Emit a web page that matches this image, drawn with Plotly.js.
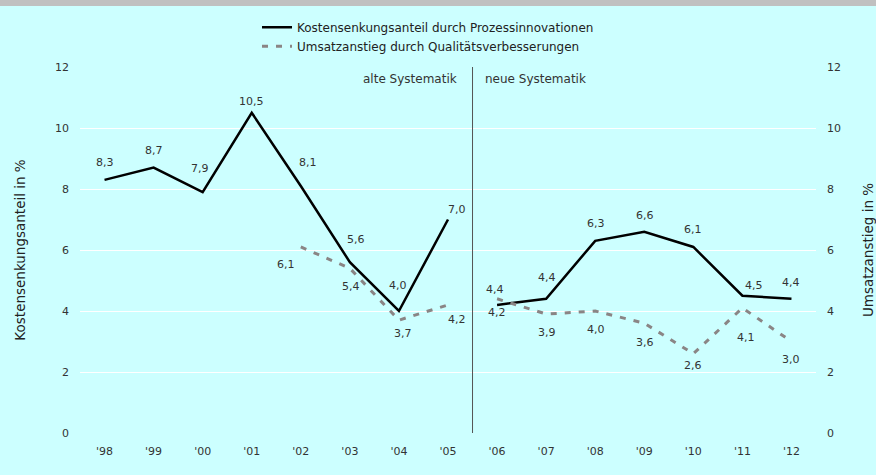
<!DOCTYPE html>
<html><head><meta charset="utf-8">
<script src="https://cdn.plot.ly/plotly-3.0.1.min.js"></script>
<style>html,body{margin:0;padding:0;background:#ccffff;}#band{height:6px;background:#c0c0c0;}#c{width:876px;height:469px;}</style>
</head><body><div id="band"></div><div id="c"></div>
<script>
const years = ["'98","'99","'00","'01","'02","'03","'04","'05","'06","'07","'08","'09","'10","'11","'12"];
const kosten = [8.3, 8.7, 7.9, 10.5, 8.1, 5.6, 4.0, 7.0, 4.2, 4.4, 6.3, 6.6, 6.1, 4.5, 4.4];
const umsatz = [null, null, null, null, 6.1, 5.4, 3.7, 4.2, 4.4, 3.9, 4.0, 3.6, 2.6, 4.1, 3.0];
const nameKosten = "Kostensenkungsanteil durch Prozessinnovationen";
const nameUmsatz = "Umsatzanstieg durch Qualitätsverbesserungen";
const splitIndex = 8; // first year of "neue Systematik"

// label offsets in pixels (style only): [dx, dy], dy positive = up
const kostenOff = [[0,17],[0,17],[-3,24],[0,11],[7,23],[6,23],[-1,26],[9,10],
                   [0,-8],[1,21],[1,17],[1,16],[0,17],[12,10],[0,16]];
const umsatzOff = [null,null,null,null,[-15,-18],[1,-18],[4,-13],[9,-15],
                   [-2,9],[1,-18],[1,-18],[1,-19],[0,-12],[4,-30],[0,-18]];

const fmt = v => v.toFixed(1).replace('.', ',');
const FAM = 'DejaVu Sans, Verdana, sans-serif';
const lblFont = {family:FAM, size:11, color:'#333'};

function mk(vals, a, b, opts) {
  return Object.assign({
    type:'scatter', mode:'lines',
    x: years.slice(a, b), y: vals.slice(a, b),
    hoverinfo:'skip'
  }, opts);
}
const solidLine = {color:'#000', width:2.5};
const dashLine = {color:'#8a8585', width:3, dash:'6px,8px'};
const traces = [
  mk(kosten, 0, splitIndex, {name:nameKosten, line:solidLine, legendgroup:'k', yaxis:'y'}),
  mk(kosten, splitIndex, years.length, {name:nameKosten, line:solidLine, legendgroup:'k', showlegend:false, yaxis:'y'}),
  mk(umsatz, 0, splitIndex, {name:nameUmsatz, line:dashLine, legendgroup:'u', yaxis:'y2'}),
  mk(umsatz, splitIndex, years.length, {name:nameUmsatz, line:dashLine, legendgroup:'u', showlegend:false, yaxis:'y2'})
];

const annotations = [];
function addLabels(vals, offs, yref) {
  vals.forEach((v, i) => {
    if (v == null) return;
    annotations.push({xref:'x', yref:yref, x:years[i], y:v, text:fmt(v), showarrow:false,
      xanchor:'center', yanchor:'middle', xshift:offs[i][0], yshift:offs[i][1], font:lblFont});
  });
}
addLabels(kosten, kostenOff, 'y');
addLabels(umsatz, umsatzOff, 'y2');
const sysFont = {family:FAM, size:12, color:'#333'};
annotations.push({xref:'x', yref:'y', x:7.5, y:12, xshift:-14, yshift:-3, xanchor:'right', yanchor:'top', showarrow:false, text:'alte Systematik', font:sysFont});
annotations.push({xref:'x', yref:'y', x:7.5, y:12, xshift:10, yshift:-3, xanchor:'left', yanchor:'top', showarrow:false, text:'neue Systematik', font:sysFont});

const axFont = {family:FAM, size:11, color:'#333'};
const titleFont = {family:FAM, size:13.5, color:'#222'};
const layout = {
  width:876, height:469,
  paper_bgcolor:'#ccffff', plot_bgcolor:'#ccffff',
  margin:{l:80, r:60, t:61, b:42, autoexpand:false},
  showlegend:true,
  legend:{x:0.2405, xanchor:'left', y:1.148, yanchor:'top', bgcolor:'rgba(0,0,0,0)',
          font:{family:FAM, size:12, color:'#222'}, tracegroupgap:0},
  xaxis:{type:'category', categoryarray:years, range:[-0.5, 14.5], showgrid:false, zeroline:false,
         showline:false, ticks:'', tickfont:axFont, ticklabelstandoff:10, fixedrange:true},
  yaxis:{range:[0,12], dtick:2, gridcolor:'#ffffff', gridwidth:1, zeroline:false, showline:false, ticks:'',
         tickfont:axFont, ticklabelstandoff:10,
         title:{text:'Kostensenkungsanteil in %', font:titleFont, standoff:26}},
  yaxis2:{range:[0,12], dtick:2, overlaying:'y', side:'right', showgrid:false, zeroline:false, showline:false, ticks:'',
          tickfont:axFont, ticklabelstandoff:10,
          title:{text:'Umsatzanstieg in %', font:titleFont, standoff:24}},
  shapes:[{type:'line', xref:'x', yref:'y', x0:7.5, x1:7.5, y0:0, y1:12, line:{color:'#555', width:1}}],
  annotations:annotations
};
Plotly.newPlot('c', traces, layout, {displayModeBar:false, staticPlot:true});
</script></body></html>
